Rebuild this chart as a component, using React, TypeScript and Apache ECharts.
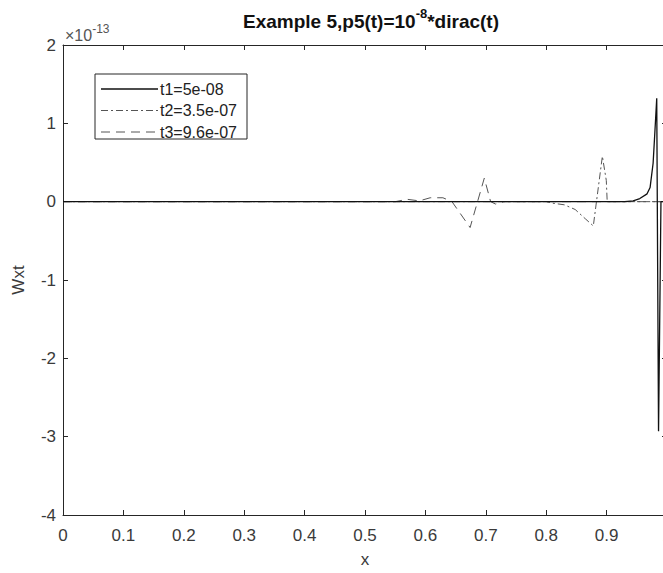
import React, { useEffect, useRef } from "react";
import * as echarts from "echarts";

// values in units of 1e-13
const t1X = [0, 0.93, 0.944, 0.955, 0.967, 0.972, 0.977, 0.98, 0.983, 0.986, 0.99, 1];
const t1Y = [0, 0, 0.01, 0.04, 0.1, 0.18, 0.49, 0.9, 1.32, -2.93, 0, 0];

const t2X = [0, 0.8, 0.811, 0.83, 0.848, 0.865, 0.878, 0.893, 0.8995, 0.901, 1];
const t2Y = [0, 0, -0.02, -0.04, -0.1, -0.22, -0.31, 0.58, 0.27, 0, 0];

const t3X = [0, 0.55, 0.57, 0.59, 0.608, 0.629, 0.644, 0.674, 0.6975, 0.708, 0.716, 0.73, 1];
const t3Y = [0, 0, 0.03, 0.01, 0.05, 0.05, 0, -0.33, 0.3, 0, -0.03, 0, 0];

const seriesNames = ["t1=5e-08", "t2=3.5e-07", "t3=9.6e-07"];
const xTicks = { min: 0, max: 1, interval: 0.1 };
const yTicks = { min: -4, max: 2, interval: 1 };

const pairs = (xs: number[], ys: number[]) => xs.map((x, i) => [x, ys[i]]);

export default function App() {
  const ref = useRef<HTMLDivElement>(null);
  useEffect(() => {
    if (!ref.current) return;
    const chart = echarts.init(ref.current, undefined, { renderer: "svg" });
    const axisColor = "#262626";
    const labelColor = "#3a3a3a";
    const font = "Liberation Sans, Arial, sans-serif";
    const styles = [
      { color: "#111", width: 1.3, dash: null as number[] | null },
      { color: "#555", width: 1, dash: [7, 3, 2, 3] },
      { color: "#555", width: 1, dash: [9, 6] },
    ];
    const legendLeft = 95;
    const legendTop = 74;
    const legendGraphics: any[] = [
      {
        type: "rect",
        shape: { x: legendLeft, y: legendTop, width: 152, height: 65 },
        style: { fill: "#fff", stroke: axisColor, lineWidth: 1 },
        z: 10,
      },
    ];
    seriesNames.forEach((n, i) => {
      const y = legendTop + 15 + i * 21.5;
      legendGraphics.push({
        type: "line",
        shape: { x1: legendLeft + 6, y1: y, x2: legendLeft + 63, y2: y },
        style: {
          stroke: styles[i].color,
          lineWidth: styles[i].width,
          lineDash: styles[i].dash || undefined,
        },
        z: 11,
      });
      legendGraphics.push({
        type: "text",
        x: legendLeft + 65,
        y: y,
        style: {
          text: n,
          fontSize: 16,
          fontFamily: font,
          fill: "#222",
          verticalAlign: "middle",
        },
        z: 11,
      });
    });
    chart.setOption({
      animation: false,
      backgroundColor: "#fff",
      textStyle: { fontFamily: font },
      title: {
        text: "{a|Example 5,p5(t)=10}{s|-8}{a|*dirac(t)}",
        left: 366,
        textAlign: "center",
        top: 2,
        textStyle: {
          rich: {
            a: { fontSize: 19, fontWeight: "bold", color: "#111", fontFamily: font, lineHeight: 24, verticalAlign: "bottom" },
            s: { fontSize: 13, fontWeight: "bold", color: "#111", fontFamily: font, lineHeight: 24, verticalAlign: "top" },
          },
        },
      },
      graphic: [
        {
          type: "text",
          left: 65,
          top: 23,
          style: {
            text: "{a|×10}{s|-13}",
            rich: {
              a: { fontSize: 16, fill: "#555", fontFamily: font, lineHeight: 20, verticalAlign: "bottom" },
              s: { fontSize: 12, fill: "#555", fontFamily: font, lineHeight: 20, verticalAlign: "top" },
            },
          },
        },
        ...legendGraphics,
      ],
      grid: { left: 63, top: 45, bottom: 58, width: 604, outerBoundsMode: "none", containLabel: false },
      xAxis: [
        {
          type: "value",
          ...xTicks,
          name: "x",
          nameLocation: "middle",
          nameGap: 36,
          nameTextStyle: { fontSize: 17, color: labelColor },
          axisLine: { onZero: false, lineStyle: { color: axisColor } },
          axisTick: { inside: true, length: 5, lineStyle: { color: axisColor } },
          axisLabel: {
            fontSize: 17,
            color: labelColor,
            margin: 12,
            formatter: (v: number) => (v === 0 ? "0" : v === 1 ? "1" : v.toFixed(1)),
          },
          splitLine: { show: false },
        },
        {
          type: "value",
          ...xTicks,
          position: "top",
          axisLine: { onZero: false, lineStyle: { color: axisColor } },
          axisTick: { inside: true, length: 5, lineStyle: { color: axisColor } },
          axisLabel: { show: false },
          splitLine: { show: false },
        },
      ],
      yAxis: [
        {
          type: "value",
          ...yTicks,
          name: "Wxt",
          nameLocation: "middle",
          nameGap: 36,
          nameRotate: 90,
          nameTextStyle: { fontSize: 17, color: labelColor },
          axisLine: { show: true, onZero: false, lineStyle: { color: axisColor } },
          axisTick: { show: true, inside: true, length: 5, lineStyle: { color: axisColor } },
          axisLabel: { fontSize: 17, color: labelColor, margin: 7 },
          splitLine: { show: false },
        },
        {
          type: "value",
          ...yTicks,
          position: "right",
          axisLine: { show: true, onZero: false, lineStyle: { color: axisColor } },
          axisTick: { show: true, inside: true, length: 5, lineStyle: { color: axisColor } },
          axisLabel: { show: false },
          splitLine: { show: false },
        },
      ],
      series: [
        {
          name: seriesNames[0],
          type: "line",
          data: pairs(t1X, t1Y),
          showSymbol: false,
          symbol: "none",
          lineStyle: { color: styles[0].color, width: styles[0].width, type: "solid" },
          z: 3,
        },
        {
          name: seriesNames[1],
          type: "line",
          data: pairs(t2X, t2Y),
          showSymbol: false,
          symbol: "none",
          lineStyle: { color: styles[1].color, width: styles[1].width, type: styles[1].dash },
          z: 2,
        },
        {
          name: seriesNames[2],
          type: "line",
          data: pairs(t3X, t3Y),
          showSymbol: false,
          symbol: "none",
          lineStyle: { color: styles[2].color, width: styles[2].width, type: styles[2].dash },
          z: 1,
        },
      ],
    });
    return () => chart.dispose();
  }, []);
  return (
    <div
      ref={ref}
      style={{ position: "absolute", left: 0, top: 0, width: 663, height: 573 }}
    />
  );
}
